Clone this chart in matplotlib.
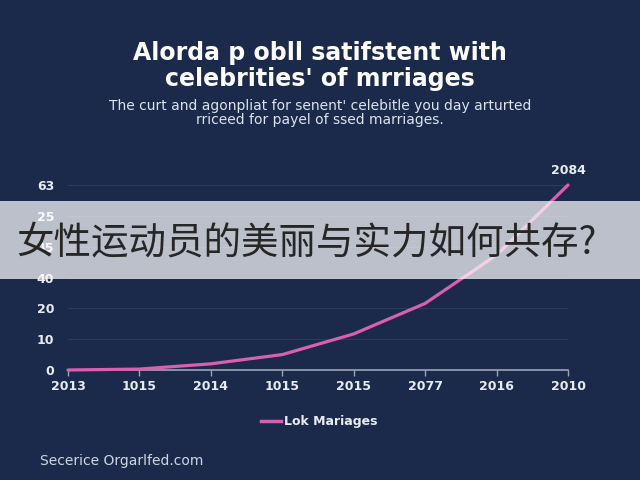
import numpy as np
import matplotlib
matplotlib.use('Agg')
import matplotlib.pyplot as plt
from matplotlib.patches import Rectangle

# 데이터
years = ['2013', '1015', '2014', '1015', '2015', '2077', '2016', '2010']
values = [0, 0.3, 2, 5, 11.7, 21.6, 37.3, 60]
ytick_vals = [0, 10, 20, 30, 40, 50, 60]
ytick_labels = ['0', '10', '20', '40', '45', '25', '63']
end_label = '2084'
series_name = 'Lok Mariages'

bg = '#1b2a4b'
pink = '#d95fb0'
txt = '#e8ecf2'

fig = plt.figure(figsize=(6.4, 4.8), dpi=100)
fig.set_facecolor(bg)

# 축 위치: x 68~568px, y 185~370px
ax = fig.add_axes([68/640, 1-370/480, 500/640, 185/480])
ax.set_facecolor(bg)
x = np.arange(len(years))
ax.plot(x, values, color=pink, lw=2.3, solid_capstyle='round', clip_on=False, zorder=3)
ax.set_xlim(0, len(years)-1)
ax.set_ylim(0, 60)

ax.set_yticks(ytick_vals)
ax.set_yticklabels(ytick_labels)
ax.set_xticks(x)
ax.set_xticklabels(years)
for s in ['top', 'right', 'left']:
    ax.spines[s].set_visible(False)
ax.spines['bottom'].set_color('#9aa5b8')
ax.spines['bottom'].set_linewidth(1.2)
ax.tick_params(axis='x', colors='#9aa5b8', length=4, width=1, pad=3)
ax.tick_params(axis='y', length=0, pad=10)
for lab in ax.get_xticklabels() + ax.get_yticklabels():
    lab.set_color(txt)
    lab.set_fontsize(9)
    lab.set_fontweight('semibold')
ax.grid(axis='y', color='#2b3b5e', lw=0.8)
ax.set_axisbelow(True)

# 마지막 점 라벨
ax.annotate(end_label, (x[-1], values[-1]), xytext=(0, 6), textcoords='offset points',
            ha='center', va='bottom', color=txt, fontsize=9, fontweight='semibold')

# 범례
leg = fig.legend([plt.Line2D([], [], color=pink, lw=2.5)], [series_name],
                 loc='center', bbox_to_anchor=(319/640, 1-422/480), frameon=False,
                 handlelength=1.6, handletextpad=0.2,
                 prop={'size': 9, 'weight': 'bold'})
for t in leg.get_texts():
    t.set_color(txt)

# 제목, 부제목
fig.text(0.5, 1-66/480, 'Alorda p obll satifstent with\ncelebrities\' of mrriages',
         ha='center', va='center', color='white', fontsize=17, fontweight='bold',
         linespacing=1.15)
fig.text(0.5, 1-113/480, 'The curt and agonpliat for senent\' celebitle you day arturted\n'
         'rriceed for payel of ssed marriages.',
         ha='center', va='center', color='#dde3ec', fontsize=10, linespacing=1.05)

# 출처
fig.text(40/640, 1-461/480, 'Secerice Orgarlfed.com', ha='left', va='center',
         color='#d0d6e0', fontsize=10)

# 반투명 띠와 중국어 제목
fig.patches.append(Rectangle((0, 1-279/480), 1, 78/480, transform=fig.transFigure,
                             facecolor='white', alpha=0.71, edgecolor='none', zorder=10))
fig.text(16/640, 1-243/480, '女性运动员的美丽与实力如何共存?', ha='left', va='center',
         color='#262626', fontsize=27, family=['Noto Sans CJK SC', 'DejaVu Sans'], zorder=11)

fig.savefig('out.png', dpi=100, facecolor=bg)
